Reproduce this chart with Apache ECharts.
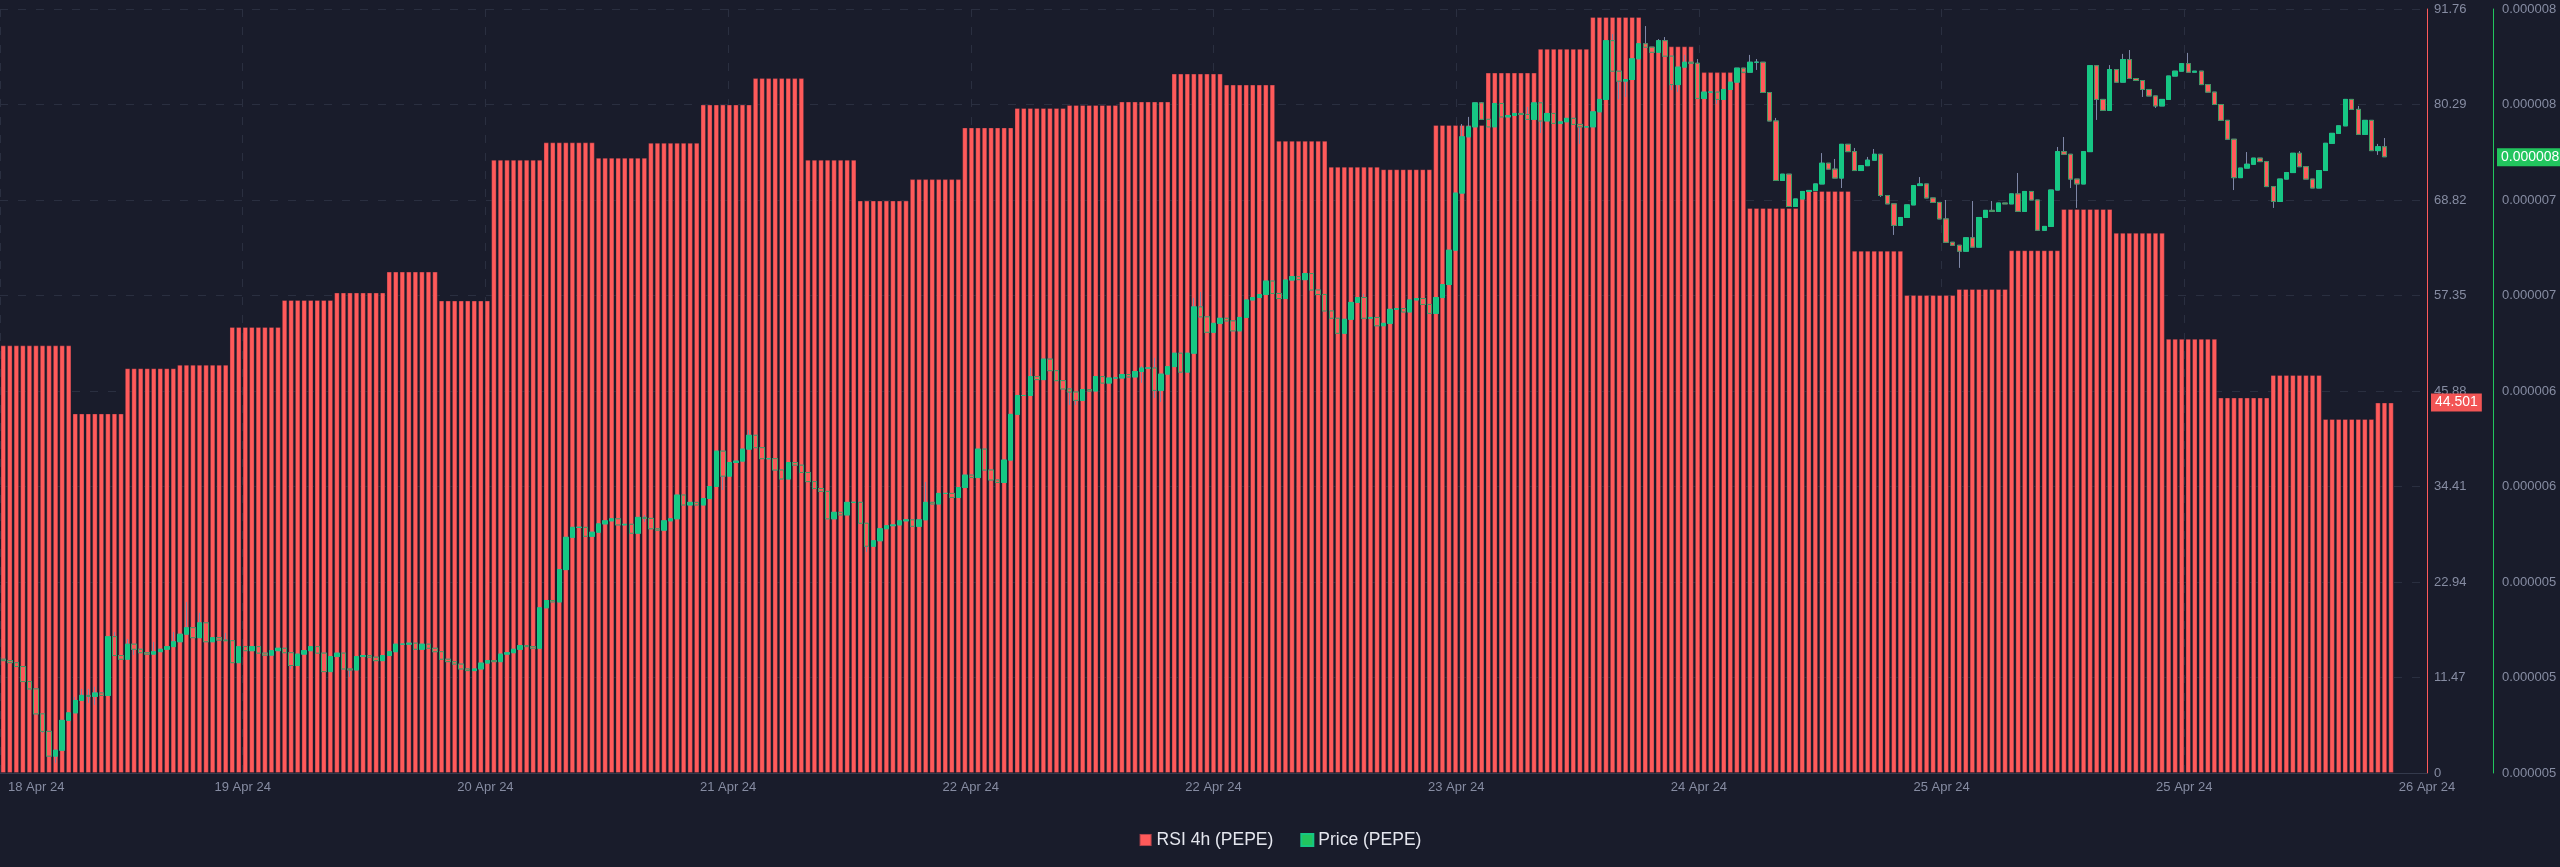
<!DOCTYPE html>
<html>
<head>
<meta charset="utf-8">
<title>RSI 4h (PEPE)</title>
<script src="https://cdn.jsdelivr.net/npm/echarts@6/dist/echarts.min.js"></script>
<style>
  html, body { margin: 0; padding: 0; background: #191c2b; }
  #chart { width: 2560px; height: 867px; }
</style>
</head>
<body>
<div id="chart"></div>
<script>
// RSI 4h, one value per 4h window (left to right), the last window is still open
const rsiSteps = [51.37, 43.19, 48.62, 49.04, 53.58, 56.81, 57.71, 60.22, 56.75, 73.66,
  75.75, 73.90, 75.69, 80.29, 83.46, 73.66, 68.76, 71.33, 77.54, 79.87,
  80.23, 80.65, 84.00, 82.68, 75.93, 72.82, 72.52, 77.84, 84.12, 86.98,
  90.81, 87.28, 84.18, 67.86, 69.90, 62.73, 57.41, 58.13, 62.79, 67.74,
  64.88, 52.15, 45.10, 47.80, 42.52, 44.501];
const firstStepBars = 11;  // first window is cut by the left edge
const barsPer4h = 8;       // 30 min candles
const lastStepBars = 3;
const emptySlots = 5;      // free room right of the last bar

// 30 min closes, price in units of 1e-6
const firstOpen = 5.090;
const closes = [
  5.083, 5.073, 5.054, 4.980, 4.944, 4.821, 4.735, 4.613, 4.642, 4.789,
  4.826, 4.887, 4.912, 4.907, 4.924, 4.912, 5.201, 5.108, 5.090, 5.164,
  5.139, 5.122, 5.115, 5.127, 5.139, 5.152, 5.176, 5.213, 5.245, 5.196,
  5.269, 5.176, 5.196, 5.184, 5.181, 5.073, 5.152, 5.132, 5.152, 5.120,
  5.110, 5.132, 5.144, 5.122, 5.059, 5.115, 5.132, 5.152, 5.120, 5.029,
  5.103, 5.120, 5.042, 5.037, 5.103, 5.108, 5.100, 5.083, 5.108, 5.127,
  5.164, 5.164, 5.169, 5.139, 5.164, 5.144, 5.127, 5.090, 5.078, 5.066,
  5.042, 5.034, 5.042, 5.071, 5.083, 5.078, 5.115, 5.122, 5.139, 5.157,
  5.152, 5.144, 5.343, 5.379, 5.372, 5.531, 5.690, 5.739, 5.739, 5.695,
  5.715, 5.756, 5.771, 5.781, 5.751, 5.754, 5.710, 5.788, 5.783, 5.732,
  5.725, 5.771, 5.781, 5.898, 5.849, 5.862, 5.849, 5.881, 5.940, 6.114,
  5.991, 6.058, 6.065, 6.124, 6.192, 6.131, 6.077, 6.077, 6.021, 5.977,
  6.058, 6.045, 6.009, 5.964, 5.930, 5.916, 5.781, 5.813, 5.800, 5.862,
  5.862, 5.759, 5.646, 5.673, 5.732, 5.747, 5.751, 5.771, 5.776, 5.744,
  5.776, 5.862, 5.854, 5.906, 5.906, 5.886, 5.935, 5.996, 5.984, 6.124,
  6.021, 5.972, 5.960, 6.070, 6.295, 6.388, 6.388, 6.481, 6.466, 6.567,
  6.510, 6.461, 6.420, 6.405, 6.364, 6.417, 6.410, 6.481, 6.449, 6.474,
  6.474, 6.491, 6.479, 6.506, 6.523, 6.523, 6.413, 6.493, 6.530, 6.596,
  6.503, 6.596, 6.824, 6.775, 6.699, 6.743, 6.768, 6.755, 6.706, 6.772,
  6.858, 6.870, 6.885, 6.951, 6.890, 6.865, 6.956, 6.973, 6.958, 6.988,
  6.907, 6.885, 6.804, 6.768, 6.694, 6.763, 6.846, 6.870, 6.768, 6.772,
  6.731, 6.743, 6.812, 6.816, 6.799, 6.858, 6.865, 6.836, 6.792, 6.870,
  6.934, 7.103, 7.384, 7.661, 7.710, 7.828, 7.747, 7.710, 7.825, 7.759,
  7.766, 7.776, 7.771, 7.747, 7.828, 7.739, 7.776, 7.727, 7.735, 7.752,
  7.722, 7.710, 7.710, 7.784, 7.845, 8.134, 7.984, 7.935, 7.943, 8.045,
  8.119, 8.102, 8.077, 8.134, 8.058, 7.918, 8.004, 8.028, 8.023, 7.850,
  7.881, 7.881, 7.845, 7.894, 7.930, 7.999, 7.979, 8.028, 8.028, 7.879,
  7.739, 7.446, 7.477, 7.318, 7.355, 7.392, 7.397, 7.429, 7.531, 7.502,
  7.458, 7.624, 7.588, 7.495, 7.519, 7.546, 7.575, 7.372, 7.331, 7.225,
  7.264, 7.326, 7.421, 7.429, 7.360, 7.338, 7.257, 7.142, 7.127, 7.098,
  7.164, 7.118, 7.264, 7.299, 7.294, 7.335, 7.331, 7.380, 7.294, 7.392,
  7.350, 7.201, 7.220, 7.399, 7.588, 7.575, 7.453, 7.429, 7.588, 8.011,
  7.845, 7.791, 7.992, 7.930, 8.041, 7.948, 7.938, 7.894, 7.862, 7.813,
  7.845, 7.960, 7.984, 8.021, 7.979, 7.984, 7.918, 7.881, 7.820, 7.742,
  7.649, 7.460, 7.507, 7.526, 7.556, 7.539, 7.416, 7.343, 7.453, 7.485,
  7.580, 7.514, 7.453, 7.409, 7.495, 7.629, 7.678, 7.715, 7.845, 7.796,
  7.673, 7.742, 7.593, 7.612, 7.563
];
// visible wicks [candle index, price]
const wickHighs = [[1, 5.086], [11, 4.904], [12, 4.944], [13, 4.944], [14, 4.954], [17, 5.224],
  [19, 5.190], [23, 5.175], [26, 5.224], [28, 5.372], [30, 5.318], [34, 5.219], [98, 5.800],
  [114, 6.218], [141, 5.962], [149, 6.081], [157, 6.523], [174, 6.533], [176, 6.573],
  [182, 6.868], [183, 6.897], [208, 6.888], [223, 7.724], [224, 7.759], [226, 7.832],
  [233, 7.808], [246, 8.167], [251, 8.206], [253, 8.142], [254, 8.152], [257, 8.064],
  [259, 8.044], [267, 8.064], [268, 8.044], [271, 7.754], [278, 7.581], [280, 7.552],
  [283, 7.606], [285, 7.562], [286, 7.601], [293, 7.463], [297, 7.350], [301, 7.345],
  [304, 7.345], [308, 7.483], [313, 7.394], [314, 7.611], [315, 7.660], [322, 8.014],
  [324, 8.069], [325, 8.088], [334, 8.074], [336, 7.941], [343, 7.586], [349, 7.488],
  [351, 7.591], [360, 7.813], [363, 7.626], [364, 7.655]];
const wickLows = [[6, 4.727], [8, 4.580], [13, 4.875], [14, 4.865], [20, 5.111], [23, 5.121],
  [44, 5.042], [53, 5.003], [98, 5.766], [110, 5.923], [132, 5.618], [163, 6.341],
  [164, 6.341], [174, 6.450], [176, 6.376], [177, 6.356], [235, 7.680], [241, 7.626],
  [247, 7.845], [248, 7.857], [255, 7.891], [256, 7.882], [260, 7.850], [262, 7.823],
  [268, 7.990], [281, 7.409], [287, 7.365], [289, 7.178], [296, 7.257], [299, 7.016],
  [311, 7.198], [316, 7.409], [317, 7.311], [320, 7.744], [321, 7.803], [327, 7.857],
  [329, 7.803], [341, 7.399], [347, 7.311], [363, 7.572]];

const xTickLabels = ['18 Apr 24', '19 Apr 24', '20 Apr 24', '21 Apr 24', '22 Apr 24', '22 Apr 24',
  '23 Apr 24', '24 Apr 24', '25 Apr 24', '25 Apr 24', '26 Apr 24'];
const rsiMax = 91.76;
const rsiStep = 11.47;
const priceTicks = [4.53, 5.00, 5.47, 5.94, 6.41, 6.88, 7.35, 7.82, 8.29];

const RED = '#ff5a5a';
const GREEN = '#16c784';
const AXIS_GREEN = '#22c55e';
const LABEL = '#868ca2';
const GRID_LINE = '#2a2f40';
const FONT = "'Liberation Sans', Arial, sans-serif";

// expand the 4h RSI over the 30 min slots
const rsiBars = [];
rsiSteps.forEach((v, k) => {
  const n = k === 0 ? firstStepBars : (k === rsiSteps.length - 1 ? lastStepBars : barsPer4h);
  for (let j = 0; j < n; j++) rsiBars.push(v);
});
const categories = [];
for (let i = 0; i < rsiBars.length + emptySlots; i++) categories.push(i);

const highMap = new Map(wickHighs);
const lowMap = new Map(wickLows);
const candles = closes.map((c, i) => {
  const o = i === 0 ? firstOpen : closes[i - 1];
  const hi = Math.max(o, c, highMap.has(i) ? highMap.get(i) : -Infinity);
  const lo = Math.min(o, c, lowMap.has(i) ? lowMap.get(i) : Infinity);
  return [o, c, lo, hi];
});
// bodies only, drawn over the grey wicks
const bodies = candles.map(d => [d[0], d[1], Math.min(d[0], d[1]), Math.max(d[0], d[1])]);

const lastRsi = rsiSteps[rsiSteps.length - 1];
const lastClose = closes[closes.length - 1];

// invisible horizontal line that only carries the value tag on the axis
function valueTag(value, distance, bg, text) {
  return {
    silent: true,
    symbol: 'none',
    lineStyle: { color: 'rgba(0,0,0,0)', width: 0 },
    label: {
      show: true,
      position: 'end',
      distance: distance,
      color: '#fff',
      fontSize: 14,
      fontFamily: FONT,
      backgroundColor: bg,
      padding: [2, 4],
      formatter: text
    },
    data: [{ yAxis: value }]
  };
}

const chart = echarts.init(document.getElementById('chart'));
chart.setOption({
  animation: false,
  backgroundColor: '#191c2b',
  textStyle: { fontFamily: FONT },
  grid: [
    { left: -4.2, right: 133, top: 9, bottom: 94 },
    { left: 0, right: 133, top: 9, bottom: 94 }
  ],
  legend: {
    top: 826,
    left: 'center',
    icon: 'rect',
    itemWidth: 12,
    itemHeight: 12,
    itemGap: 27,
    textStyle: { color: '#e4e6ee', fontSize: 17.5, fontFamily: FONT },
    data: [
      { name: 'RSI 4h (PEPE)', itemStyle: { color: RED } },
      { name: 'Price (PEPE)', itemStyle: { color: AXIS_GREEN } }
    ]
  },
  xAxis: [
    {
      type: 'category',
      gridIndex: 0,
      data: categories,
      boundaryGap: true,
      axisLine: { lineStyle: { color: '#343a4c' } },
      axisTick: { show: false },
      axisLabel: { show: false },
      splitLine: { show: false }
    },
    {
      type: 'value',
      gridIndex: 1,
      min: 0,
      max: xTickLabels.length - 1,
      interval: 1,
      axisLine: { show: false },
      axisTick: { show: false },
      splitLine: { show: true, lineStyle: { color: GRID_LINE, type: [8, 10] } },
      axisLabel: {
        color: LABEL,
        fontSize: 13,
        margin: 8,
        alignMinLabel: 'left',
        formatter: v => v === 0 ? '{first|' + xTickLabels[v] + '}' : xTickLabels[v],
        rich: { first: { padding: [0, 0, 0, 8], color: LABEL, fontSize: 13 } }
      }
    }
  ],
  yAxis: [
    {
      type: 'value',
      gridIndex: 0,
      position: 'right',
      min: 0,
      max: rsiMax,
      interval: rsiStep,
      axisLine: { show: true, lineStyle: { color: RED, width: 1 } },
      axisTick: { show: false },
      axisLabel: {
        color: LABEL,
        fontSize: 13,
        margin: 7,
        formatter: v => v === 0 ? '0' : v.toFixed(2)
      },
      splitLine: { show: true, lineStyle: { color: GRID_LINE, type: [8, 10] } }
    },
    {
      type: 'value',
      gridIndex: 0,
      position: 'right',
      offset: 66,
      min: priceTicks[0],
      max: priceTicks[priceTicks.length - 1],
      axisLine: { show: true, lineStyle: { color: AXIS_GREEN, width: 1 } },
      axisTick: { show: false },
      splitLine: { show: false },
      axisLabel: {
        color: LABEL,
        fontSize: 13,
        margin: 9,
        customValues: priceTicks,
        formatter: v => (v * 1e-6).toFixed(6)
      }
    },
    { type: 'value', gridIndex: 1, min: 0, max: 1, show: false }
  ],
  series: [
    {
      name: 'RSI 4h (PEPE)',
      type: 'bar',
      xAxisIndex: 0,
      yAxisIndex: 0,
      data: rsiBars,
      barWidth: '84%',
      itemStyle: { color: RED, borderColor: 'rgba(40,30,48,0.35)', borderWidth: 1 },
      markLine: valueTag(lastRsi, 4, '#f25555', () => lastRsi.toFixed(3))
    },
    {
      name: 'Price wick',
      type: 'candlestick',
      xAxisIndex: 0,
      yAxisIndex: 1,
      data: candles,
      barWidth: '75%',
      itemStyle: {
        color: 'transparent',
        color0: 'transparent',
        borderColor: '#7e86a6',
        borderColor0: '#7e86a6',
        borderWidth: 1
      }
    },
    {
      name: 'Price (PEPE)',
      type: 'candlestick',
      xAxisIndex: 0,
      yAxisIndex: 1,
      data: bodies,
      barWidth: '75%',
      itemStyle: {
        color: GREEN,
        color0: RED,
        borderColor: GREEN,
        borderColor0: '#3f9a62',
        borderWidth: 1
      },
      markLine: valueTag(lastClose, 70, AXIS_GREEN, () => (lastClose * 1e-6).toFixed(6))
    }
  ]
});
</script>
</body>
</html>
